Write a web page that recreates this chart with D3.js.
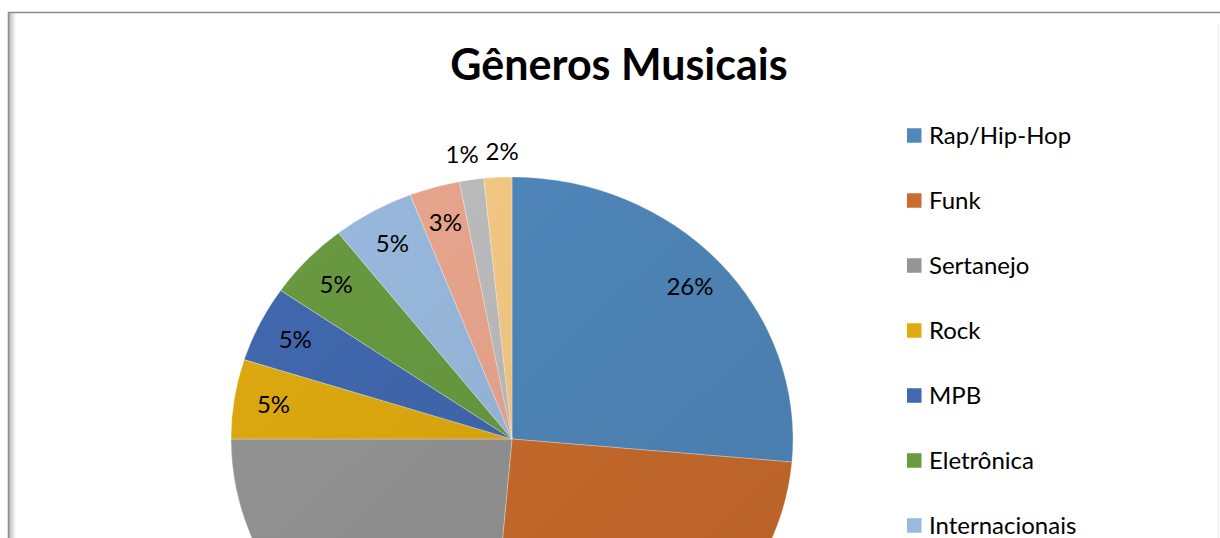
<!DOCTYPE html>
<html>
<head>
<meta charset="utf-8">
<script src="https://cdn.jsdelivr.net/npm/d3@7"></script>
<style>
  html, body { margin: 0; padding: 0; background: #fff; overflow: hidden; }
  svg { display: block; font-family: Lato, "Open Sans", sans-serif; }
</style>
</head>
<body>
<div id="chart"></div>
<script>
// chart data (share of answers, %)
const categories = ['Rap/Hip-Hop', 'Funk', 'Sertanejo', 'Rock', 'MPB',
  'Eletrônica', 'Internacionais', 'Pagode', 'Gospel', 'Outros'];
const values = [26.4, 25.0, 23.6, 4.9, 4.7, 4.8, 4.7, 2.9, 1.4, 1.6];
const colors = ['#5088bc', '#cb6c2d', '#959595', '#e0ab10', '#4168b0',
  '#699b41', '#99badf', '#eba78f', '#bebebe', '#f7cb86'];
const title = 'Gêneros Musicais';

const width = 1220,
  height = 538;

const svg = d3.select('#chart').append('svg')
  .attr('width', width)
  .attr('height', height);

const defs = svg.append('defs');
const shadow = defs.append('linearGradient')
  .attr('id', 'leftShadow')
  .attr('x1', 0).attr('x2', 1).attr('y1', 0).attr('y2', 0);
shadow.append('stop').attr('offset', '0%').attr('stop-color', '#b8b8b8');
shadow.append('stop').attr('offset', '100%').attr('stop-color', '#ffffff');

// subtle shading over the pie, darker to the lower right
const shade = defs.append('linearGradient')
  .attr('id', 'pieShade')
  .attr('x1', 0).attr('y1', 0).attr('x2', 1).attr('y2', 1);
shade.append('stop').attr('offset', '0%').attr('stop-color', '#000').attr('stop-opacity', 0);
shade.append('stop').attr('offset', '100%').attr('stop-color', '#000').attr('stop-opacity', 0.1);

// chart frame with a soft shadow on the left
svg.append('rect')
  .attr('x', 9).attr('y', 13)
  .attr('width', 7).attr('height', height)
  .attr('fill', 'url(#leftShadow)');
svg.append('line')
  .attr('x1', 8.5).attr('x2', 8.5).attr('y1', 12).attr('y2', height)
  .attr('stroke', '#8c8c8c').attr('stroke-width', 1.5);
svg.append('line')
  .attr('x1', 8).attr('x2', width).attr('y1', 12.5).attr('y2', 12.5)
  .attr('stroke', '#8c8c8c').attr('stroke-width', 1.5);
svg.append('line')
  .attr('x1', width - 1.5).attr('x2', width - 1.5).attr('y1', 24).attr('y2', height)
  .attr('stroke', '#ececec').attr('stroke-width', 1);

// title
svg.append('text')
  .attr('x', 619)
  .attr('y', 80)
  .attr('text-anchor', 'middle')
  .attr('font-size', 43)
  .attr('font-weight', 'bold')
  .attr('fill', '#000')
  .text(title);

// pie (the picture is slightly stretched horizontally)
const cx = 512,
  cy = 439,
  r = 262,
  sx = 281 / 262;

const total = d3.sum(values);
const pie = d3.pie().sort(null).value(d => d)(values);
const arc = d3.arc().innerRadius(0).outerRadius(r);

const g = svg.append('g')
  .attr('transform', 'translate(' + cx + ',' + cy + ') scale(' + sx + ',1)');

g.selectAll('path.slice')
  .data(pie)
  .enter()
  .append('path')
  .attr('class', 'slice')
  .attr('d', arc)
  .attr('fill', (d, i) => colors[i])
  .attr('stroke', '#ffffff')
  .attr('stroke-opacity', 0.5)
  .attr('stroke-width', 0.6);

g.append('circle')
  .attr('r', r)
  .attr('fill', 'url(#pieShade)')
  .attr('pointer-events', 'none');

// data labels: inside for big slices, outside for the tiny ones
const fmt = d3.format('.0%');
const inArc = d3.arc().innerRadius(225).outerRadius(225);
const outArc = d3.arc().innerRadius(287).outerRadius(287);

const labels = pie.map((d, i) => {
  const share = d.value / total;
  const outside = share < 0.02;
  const c = (outside ? outArc : inArc).centroid(d);
  return {text: fmt(share), x: cx + c[0] * sx, y: cy + c[1], outside};
});

// spread outside labels so they do not touch
const outs = labels.filter(l => l.outside).sort((a, b) => a.x - b.x);
if (outs.length > 1) {
  const minGap = 40,
    start = d3.mean(outs, l => l.x) - minGap * (outs.length - 1) / 2;
  outs.forEach((l, i) => { l.x = start + i * minGap; });
}

svg.selectAll('text.lbl')
  .data(labels)
  .enter()
  .append('text')
  .attr('class', 'lbl')
  .attr('x', d => d.x)
  .attr('y', d => d.y + 8)
  .attr('text-anchor', 'middle')
  .attr('font-size', 24)
  .attr('fill', '#000')
  .text(d => d.text);

// legend
const legendX = 907,
  legendY = 135.5,
  legendStep = 65,
  box = 14.5;

const item = svg.selectAll('g.legend')
  .data(categories)
  .enter()
  .append('g')
  .attr('class', 'legend')
  .attr('transform', (d, i) => 'translate(' + legendX + ',' + (legendY + i * legendStep) + ')');

item.append('rect')
  .attr('x', 0)
  .attr('y', -box / 2)
  .attr('width', box)
  .attr('height', box)
  .attr('fill', (d, i) => colors[i]);

item.append('text')
  .attr('x', 22)
  .attr('y', 8.5)
  .attr('font-size', 24)
  .attr('fill', '#000')
  .text(d => d);
</script>
</body>
</html>
